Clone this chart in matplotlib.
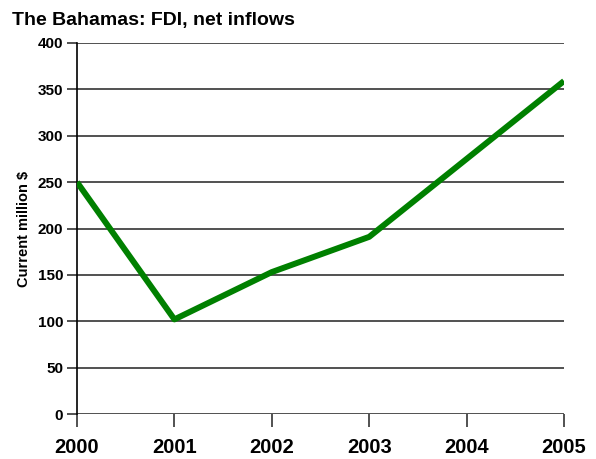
import matplotlib
matplotlib.use("Agg")
import matplotlib.pyplot as plt

years = [2000, 2001, 2002, 2003, 2004, 2005]
fdi = [250, 102, 153, 191, 275, 359]
yticks = [0, 50, 100, 150, 200, 250, 300, 350, 400]

plt.rcParams['font.family'] = ['Liberation Sans', 'DejaVu Sans']
plt.rcParams['font.weight'] = 'bold'

fig = plt.figure(figsize=(5.96, 4.59), dpi=100)
ax = fig.add_axes([77/596, 1-414/459, (564-77)/596, (414-43)/459])

ax.plot(years, fdi, color='#008000', lw=4.3, solid_capstyle='butt', zorder=3)

ax.set_xlim(2000, 2005)
ax.set_ylim(0, 400)
ax.set_yticks(yticks)
ax.set_xticks(years)
ax.set_yticklabels([str(v) for v in yticks], fontsize=11, fontweight='bold')
ax.set_xticklabels([str(v) for v in years], fontsize=14.5, fontweight='bold')
for v in yticks:
    ax.axhline(v, color='#222222', lw=1.1, zorder=1)
for s in ['top', 'right', 'bottom']:
    ax.spines[s].set_visible(False)
ax.spines['left'].set_color('black')
ax.spines['left'].set_linewidth(1.2)
ax.tick_params(axis='y', length=7, width=1.1, color='#222222', pad=3)
ax.tick_params(axis='x', length=9, width=1.2, color='#333333', pad=8)
ax.set_ylabel('Current million $', fontsize=10.5, fontweight='bold', labelpad=5)
fig.text(12/596, 1-20/459, 'The Bahamas: FDI, net inflows', fontsize=14,
         fontweight='bold', va='center', ha='left')
fig.savefig('out.png', dpi=100)
